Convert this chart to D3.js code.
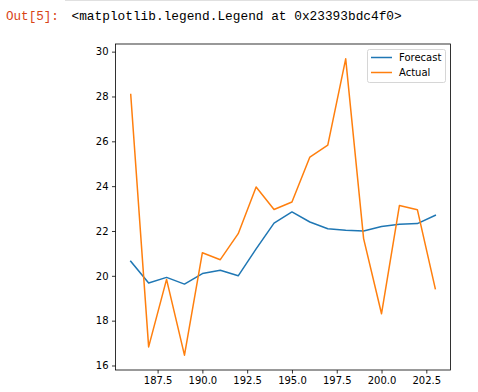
<!DOCTYPE html>
<html><head><meta charset="utf-8">
<script src="https://cdn.jsdelivr.net/npm/d3@7"></script>
<style>
body{margin:0;background:#fff;width:478px;height:392px;overflow:hidden;}
svg{display:block;}
</style></head>
<body>
<svg id="c" width="478" height="392"></svg>
<script>
const xValues = [186,187,188,189,190,191,192,193,194,195,196,197,198,199,200,201,202,203];
const forecast = [20.65,19.68,19.93,19.63,20.1,20.25,20.0,21.2,22.35,22.85,22.4,22.1,22.03,22.0,22.2,22.3,22.33,22.7];
const actual = [28.09,16.83,19.84,16.46,21.03,20.72,21.88,23.96,22.96,23.29,25.3,25.83,29.68,21.66,18.31,23.14,22.95,19.43];
const xTicks = [187.5,190.0,192.5,195.0,197.5,200.0,202.5];
const yTicks = [16,18,20,22,24,26,28,30];
const seriesNames = ["Forecast","Actual"];
const colors = ["#1f77b4","#ff7f0e"];

const svg = d3.select("#c");
// Jupyter header
svg.append("line").attr("x1",65).attr("x2",478).attr("y1",0.5).attr("y2",0.5).attr("stroke","#e0e0e0");
svg.append("text").attr("x",6).attr("y",19.5).attr("font-family","'Liberation Mono', monospace").attr("font-size",12.6).attr("fill","#D84315").text("Out[5]:");
svg.append("text").attr("x",71.5).attr("y",19.5).attr("font-family","'Liberation Mono', monospace").attr("font-size",12.8).attr("fill","#000").text("<matplotlib.legend.Legend at 0x23393bdc4f0>");

const L=115.5, R=450.5, T=44, B=370;
const allY = forecast.concat(actual);
const xmin=d3.min(xValues), xmax=d3.max(xValues);
const ymin=d3.min(allY), ymax=d3.max(allY);
const xm=(xmax-xmin)*0.05, ym=(ymax-ymin)*0.05;
const x=d3.scaleLinear().domain([xmin-xm,xmax+xm]).range([L,R]);
const y=d3.scaleLinear().domain([ymin-ym,ymax+ym]).range([B,T]);

const font="'DejaVu Sans', sans-serif";
const xa=svg.append("g").attr("transform",`translate(0,${B})`)
  .call(d3.axisBottom(x).tickValues(xTicks).tickFormat(d3.format(".1f")).tickSize(3.5).tickPadding(3.5));
const ya=svg.append("g").attr("transform",`translate(${L},0)`)
  .call(d3.axisLeft(y).tickValues(yTicks).tickFormat(d3.format("d")).tickSize(3.5).tickPadding(3.5));
[xa,ya].forEach(a=>{a.select(".domain").remove();a.selectAll("text").attr("font-family",font).attr("font-size",10).attr("fill","#000");a.selectAll("line").attr("stroke","#000").attr("stroke-width",0.8);});

const line=d3.line().x((d,i)=>x(xValues[i])).y(d=>y(d));
[forecast,actual].forEach((s,k)=>{
  svg.append("path").datum(s).attr("d",line).attr("fill","none").attr("stroke",colors[k]).attr("stroke-width",1.5).attr("stroke-linejoin","round").attr("stroke-linecap","square");
});
svg.append("rect").attr("x",L).attr("y",T).attr("width",R-L).attr("height",B-T).attr("fill","none").attr("stroke","#000").attr("stroke-width",0.8);

// legend
const lg=svg.append("g");
lg.append("rect").attr("x",367.5).attr("y",49.5).attr("width",78).attr("height",33).attr("rx",2).attr("fill","#fff").attr("fill-opacity",0.8).attr("stroke","#d6d6d6");
seriesNames.forEach((n,i)=>{
  const yy=57.5+i*15;
  lg.append("line").attr("x1",371).attr("x2",392).attr("y1",yy).attr("y2",yy).attr("stroke",colors[i]).attr("stroke-width",1.5);
  lg.append("text").attr("x",399).attr("y",yy+3.6).attr("font-family",font).attr("font-size",10).attr("fill","#000").text(n);
});
</script>
</body></html>
